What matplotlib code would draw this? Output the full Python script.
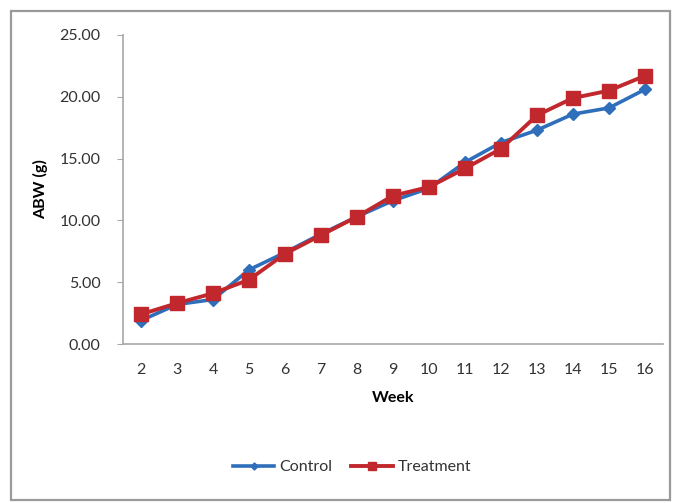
import matplotlib
matplotlib.use("Agg")
import matplotlib.pyplot as plt
from matplotlib.patches import Rectangle

weeks = [2, 3, 4, 5, 6, 7, 8, 9, 10, 11, 12, 13, 14, 15, 16]
control = [1.9, 3.2, 3.6, 6.0, 7.4, 8.9, 10.3, 11.6, 12.6, 14.7, 16.3, 17.3, 18.6, 19.1, 20.6]
treatment = [2.4, 3.3, 4.1, 5.2, 7.3, 8.8, 10.3, 12.0, 12.7, 14.2, 15.8, 18.5, 19.9, 20.5, 21.7]
y_ticks = [0, 5, 10, 15, 20, 25]

plt.rcParams['font.family'] = ['Lato', 'DejaVu Sans']

W, H = 676, 503
fig = plt.figure(figsize=(W / 100, H / 100), dpi=100)
fig.patch.set_facecolor('white')

# outer chart frame
fig.add_artist(Rectangle((11 / W, 1 - 500 / H), (670 - 11) / W, (500 - 11) / H,
                         transform=fig.transFigure, fill=False,
                         edgecolor='#9a9a9a', linewidth=1.6))

ax = fig.add_axes([123 / W, 1 - 344 / H, (663 - 123) / W, (344 - 35) / H])
pos = list(range(len(weeks)))

ax.plot(pos, control, color='#2F6EBA', linewidth=2.6, marker='D',
        markersize=6, label='Control', zorder=3)
ax.plot(pos, treatment, color='#C0282D', linewidth=2.8, marker='s',
        markersize=10, label='Treatment', zorder=4)

ax.set_xlim(-0.5, len(weeks) - 0.5)
ax.set_ylim(0, 25)
ax.set_xticks(pos)
ax.set_xticklabels([str(w) for w in weeks])
ax.set_yticks(y_ticks)
ax.set_yticklabels([f"{v:.2f}" for v in y_ticks])

for side in ['top', 'right']:
    ax.spines[side].set_visible(False)
for side in ['left', 'bottom']:
    ax.spines[side].set_color('#a8a8a8')
    ax.spines[side].set_linewidth(1.2)

ax.tick_params(axis='y', direction='out', length=4, color='#a8a8a8',
               labelsize=11.5, labelcolor='#333333', pad=12)
ax.tick_params(axis='x', length=0, labelsize=11.5, labelcolor='#333333', pad=14)

ax.set_xlabel('Week', fontsize=11.5, fontweight='bold', labelpad=10)
ax.set_ylabel('ABW (g)', fontsize=11.5, fontweight='bold', labelpad=8)

leg = fig.legend(loc='center', bbox_to_anchor=(352 / W, 1 - 467 / H), ncol=2,
                 frameon=False, fontsize=11.5, handlelength=2.6,
                 columnspacing=1.2, handletextpad=0.3, markerscale=0.6)
for t in leg.get_texts():
    t.set_color('#333333')

fig.savefig('out.png', dpi=100, facecolor='white')
